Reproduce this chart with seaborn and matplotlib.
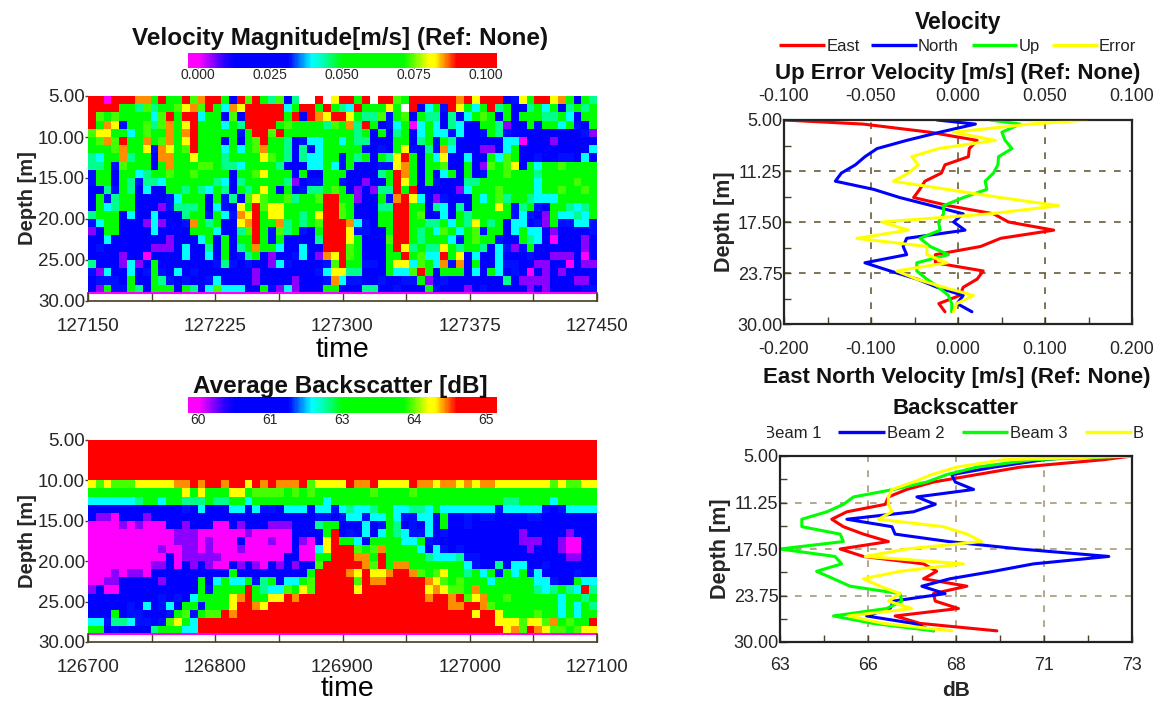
import numpy as np
import matplotlib
matplotlib.use("Agg")
import matplotlib.pyplot as plt
import seaborn as sns
from matplotlib.colors import LinearSegmentedColormap

W, H = 1160, 702

# colour levels, as a fraction of the colour bar
LEVELS = {'m': 0.02, 'p': 0.08, 'b': 0.2, 'a': 0.33, 'c': 0.40, 't': 0.45, 'g': 0.6,
          'l': 0.72, 'y': 0.78, 'o': 0.83, 'r': 0.95, 'w': np.nan}

VEL_WEST = [
    "rrmrrroogrggrlorrgbrlrgtlbtwwrwy", "rrrrggtltgglyolrgcoyrrrrrcgrrgrg",
    "rlglggggclrgrrcggblbrrrrrgrbroyr", "rgoyaggltlogyrgggcgtrrrrglggggtl",
    "lyyggcglggogorgggggagrrlrggggggg", "glolrggoglogyrgggbgbglrggtbaccgg",
    "gggloggyaoyglrgggcgcgloggtbtbcgg", "tcggotggbooggygggtggggylgtbtccgg",
    "ttgalgggbgogggllgttcggggtbbbccgc", "aggbggctgglgglggggbgglygggbgbbgg",
    "aggbgtattcggggggtcbtgggggtpbaagg", "bbtagtbcbbggtgtcgtbgtgygbgbattgl",
    "bgatggbbbbacgggbgatblylggltgglrr", "bgctggbbbpatttgbcabygrlyygggggrr",
    "tgggbcbbcbbbtggagcaoyrgyyggtgyrr", "acggbbbpcpbbaogtgbbyorggotgtglrr",
    "pbggbbbbcbbbbgggcbbtlrgaltgabgrr", "bbcbbbbbbbpbbbcgbgbggrgagbbbbtrr",
    "babbbbbbpppbcbbtbgbtgoggcbbcbbrr", "bbbbpbbmbbbbcbbcbgbatgbpbbacbpoy",
    "tbbbpcpbgbbbbbbbatababbpcabbbbal", "apcbbcbagabcbabbbbbbbpbbbbbbbacy",
    "baaabgbbgtababbacbbbbpbbbbpbbbao", "bpgaagtbgggbgtbclcccbbgapcpbbbgg",
]
VEL_EAST = [
    "rrgrwrrlgrrrrrroryrrrbaygrryogbgt", "tcrgggygwrbcgarygcgrtgbbtgcgbtgtg",
    "rygttlaglbgttbtbcglgbgbgggttgcbgg", "gotrgbacgmcgcbtcbbggtpbbgaggcgabg",
    "ggtgbgbtgbcgccacbbagtabbbbbbbbbap", "cgttbbbggbtgagtbbbbbbccmbbbpbbbbb",
    "gggababgyabtaocbbbppbcgbbbbbbbbbc", "agtgbgtyrgbgcybbcbbgclgbbabbaabcb",
    "agbbbaayogbgglbbgbplglybgcgglgggg", "gbbbbtgrogbgbcgbgbagglgggtggggggg",
    "abbpbbgrygbgabbbttgggggggcgggglgg", "gbpbpttrgrbbbbbpcggglggggcgglgglg",
    "ggpbbgaorycbpabbbgcgltggtcccggggg", "lgbbbttrrggbtcbtbgggygatgabggtctg",
    "lgbbbggrrglbbcbgtgggggacabpgcctcg", "rocabggrrggttgcgtygtgbccbapgaacca",
    "ryaabbgrrgtgclgcglaggbcgccbpbbbba", "rygbbblrrgtgggcaglggabbgtcbmbbbpb",
    "rlgbbbgrytgttygtggtbcapagbbbbbbpb", "rlgbbbggrglccrgybcbbcbbbabbpppbmb",
    "rggaabgyyclgcoaobgbbcaabbppbbmbpp", "yttbbbgcclrgbgggbcbgcbabmbpbpbbbb",
    "caabbabbaagpbabbbbbbbtbppppbbbppb", "bbbttbbabbbgabbbpbabbbbbpbpbbbbaa",
]
BS_WEST = [
    "rrrrrrrrrrrrrrrrrrrrrrrrrrrrrrrr", "rrrrrrrrrrrrrrrrrrrrrrrrrrrrrrrr",
    "rrrrrrrrrrrrrrrrrrrrrrrrrrrrrrrr", "rrrrrrrrrrrrrrrrrrrrrrrrrrrrrrrr",
    "rrrrrrrrrrrrrrrrrrrrrrrrrrrrrrrr", "ylylllyyyyyoororrorryrorooorlyyy",
    "ggggggggggggygygggyygllllglglggg", "cccccctggcggtttgttggcgggggggggcg",
    "bbbbbbbbbbbbabcbbbccbcaabcccbcca", "bppmbbbpbbbbbbbbbbbbbbbbbbbbbaab",
    "mmmmpmpmmmbbpbbbmmbpbbbpppbbbtgg", "mmmmmmmmmmmpppmmmmmmpmmmmmbbbbgr",
    "mmmmmmmmmmmpppmpmmmbmmmpmmbpmbyr", "mmmmmmmmmpmmppmpmmmpmmmmmmbmmcyr",
    "mmmmmmmmmmbmpppppmmmmmmmmbbmmggr", "mmmmmmmmppbmbpbpmmbpbpmbpbpbblrr",
    "mmmpmppmbbbbbbbbbbgbbbbbbbbbgrrr", "mmppbbbbbpbbbbgbcgccgatgbccglrrr",
    "pbmmbbbbbbbbbbgaggggrgtcclgylrrr", "bbbbbbbbbababcggggyorggyyrorrrrr",
    "bbbbbabcbacbggagggyrroyrrrrrrrrr", "bbbgbaabbbaglagllrorrrrrrrrrrrrr",
    "ccattcaabalygcrrrrrrrrrrrrrrrrrr", "ggbabbbbtgggccrrrrrrrrrrrrrrrrrr",
]
BS_EAST = [
    "rrrrrrrrrrrrrrrrrrrrrrrrrrrrrrrrr", "rrrrrrrrrrrrrrrrrrrrrrrrrrrrrrrrr",
    "rrrrrrrrrrrrrrrrrrrrrrrrrrrrrrrrr", "rrrrrrrrrrrrrrrrrrrrrrrrrrrrrrrrr",
    "rrrrrrrrrrrrrrrrrrrrrrrrrrrrrrrrr", "yrooryyyyrooyooyoyooyyyyyyylyllyy",
    "gggglgggglggggggggggggggggggggggg", "gggggggggggggggggggggttggggcggggg",
    "ctcctggccttcgcccccccacccccabacccc", "accaccgcaaccbgbbabaabbbbaabbbbbbb",
    "bbbcbagtbabcbgbbabbbbbbbbbbbbbbbb", "babcbcgtcaacbabbbbbbbbbpbbbbbpbbb",
    "ggcbggggccgabbbbbbbbbbbpppbbpmmbb", "rrlgloggggcbcababbbbbbbbpbbbpmmbb",
    "rroogrgggggtccctaabbbbbbbbbbbppbb", "rrrolrgoogggggggcabbtbccbbabbbbbb",
    "royryyorrolglyggtgcgagcgacbbbbabb", "rrlroorrrrroylglgggcgggggccabbgcc",
    "rryrrrrrrrryoyllgogggggggtctgtcrt", "rrrrrrrrrrrorrorlyogglggggggcggtg",
    "rrrrrrrrrrrrrroorrolggggggggcgcgt", "rrrrrrrrrrrrrrrrryrrygggglggcgcgg",
    "rrrrrrrrrrrrrrrrrrrryyylyyloglggr", "rrrrrrrrrrrrrrrrrrrrryolroyllglyy",
]

VEL_TICKS = [127150, 127225, 127300, 127375, 127450]
BS_TICKS = [126700, 126800, 126900, 127000, 127100]
DEPTH_TICKS = [5, 10, 15, 20, 25, 30]
PROFILE_DEPTH_TICKS = [5, 11.25, 17.5, 23.75, 30]

VEL_RANGE = (-0.0035, 0.1038)
BS_RANGE = (59.83, 65.19)
VEL_BAR_TICKS = [0.0, 0.025, 0.05, 0.075, 0.1]
VEL_BAR_LABELS = ["0.000", "0.025", "0.050", "0.075", "0.100"]
BS_BAR_TICKS = [60, 61.25, 62.5, 63.75, 65]
BS_BAR_LABELS = ["60", "61", "63", "64", "65"]

# profile depth bins, metres
DEPTH = [5.0, 5.5, 6.5, 7.5, 8.5, 9.5, 10.5, 11.5, 12.5, 13.5, 14.5, 15.5, 16.5,
         17.5, 18.5, 19.5, 20.5, 21.5, 22.5, 23.5, 24.5, 25.5, 26.5, 27.5, 28.5]

EAST = [-0.200, -0.109, -0.032, 0.022, 0.013, 0.012, -0.015, -0.019, -0.038, -0.044, -0.051,
        -0.011, 0.041, 0.058, 0.110, 0.049, 0.026, -0.026, -0.026, 0.029, 0.022, 0.006, 0.002,
        -0.022, -0.015]
NORTH = [-0.024, 0.020, -0.021, -0.059, -0.093, -0.107, -0.118, -0.134, -0.141, -0.097, -0.067,
         -0.030, 0.006, -0.005, 0.008, -0.059, -0.063, -0.059, -0.107, -0.078, -0.047, -0.024,
         0.006, -0.001, 0.016]
UP = [0.0185, 0.0358, 0.0252, 0.0271, 0.0310, 0.0233, 0.0229, 0.0204, 0.0156, 0.0166, 0.0032,
      -0.0083, -0.0083, -0.0112, -0.0103, -0.0218, -0.0160, -0.0055, -0.0237, -0.0237, -0.0179,
      -0.0112, -0.0055, -0.0036, -0.0036]
ERROR = [0.0741, 0.0415, -0.0026, 0.0214, -0.0112, -0.0266, -0.0228, -0.0285, -0.0371, -0.0064,
         0.0243, 0.0578, 0.0185, -0.0438, -0.0285, -0.0582, -0.0179, -0.0179, -0.0064, -0.0352,
         -0.0237, -0.0083, 0.0089, -0.0007, -0.0026]

BEAM1 = [73.0, 72.19, 69.82, 68.59, 67.36, 66.60, 66.08, 65.99, 64.90, 64.47, 64.80, 65.37, 66.08,
         64.71, 65.37, 67.08, 67.45, 67.08, 68.31, 67.36, 67.41, 68.07, 66.27, 66.98, 69.16]
BEAM2 = [71.63, 70.49, 69.07, 67.88, 67.98, 68.50, 66.89, 67.41, 66.79, 64.90, 66.18, 66.27, 67.79,
         69.82, 72.34, 70.20, 69.07, 67.83, 67.03, 67.69, 66.22, 66.13, 65.46, 66.79, 67.36]
BEAM3 = [73.0, 70.20, 68.59, 67.74, 67.17, 66.22, 65.09, 64.80, 64.33, 63.62, 63.62, 64.71, 64.80,
         63.0, 64.56, 64.75, 64.04, 64.52, 64.99, 66.41, 66.46, 66.03, 64.52, 65.65, 67.36]
BEAM4 = [73.0, 69.35, 68.02, 67.31, 66.79, 66.18, 66.08, 66.08, 66.18, 65.80, 67.64, 68.31, 68.73,
         66.60, 65.42, 68.21, 66.41, 65.37, 65.84, 66.41, 66.08, 66.74, 64.94, 65.94, 67.88]

sns.set_theme(style="white")
plt.rcParams['font.family'] = ['Liberation Sans', 'DejaVu Sans']

DARK = "#4d4228"
RED, BLUE, GREEN, YELLOW = "#ff0000", "#0000ff", "#00ff00", "#ffff00"

rainbow = LinearSegmentedColormap.from_list("adcp", [
    (0.0, "#ff00ff"), (0.035, "#ff00ff"), (0.115, "#2a00ff"), (0.15, "#0000ff"),
    (0.325, "#0000ff"), (0.40, "#00ffff"), (0.43, "#00ffc8"), (0.5, "#00ff00"),
    (0.70, "#00ff00"), (0.78, "#ffff00"), (0.80, "#ffff00"), (0.87, "#ff0000"), (1.0, "#ff0000")])


def box(l, t, r, b):
    return [l / W, 1 - b / H, (r - l) / W, (b - t) / H]


def build(west, east, lo, hi):
    rows = [w[:32] + e for w, e in zip(west, east)]
    return np.array([[lo + LEVELS[c] * (hi - lo) for c in row] for row in rows])


def heat_panel(values, rng, ticks, bar_ticks, bar_labels, title, title_y, ax_box, cax_box, xlabel_y):
    ax = fig.add_axes(box(*ax_box))
    cax = fig.add_axes(box(*cax_box))
    sns.heatmap(values, ax=ax, cbar_ax=cax, cmap=rainbow, vmin=rng[0], vmax=rng[1],
                cbar_kws={"orientation": "horizontal", "ticks": bar_ticks},
                xticklabels=False, yticklabels=False)
    cax.set_xticklabels(bar_labels, fontsize=10)
    cax.tick_params(axis="x", direction="in", length=3, width=0.7, color=DARK, pad=0, bottom=True)
    ax.collections[0].colorbar.outline.set_visible(False)

    ncol = values.shape[1]
    ax.set_ylim(25, 0)
    ax.set_xlim(0, ncol)
    pos = [(t - ticks[0]) / (ticks[-1] - ticks[0]) * ncol for t in ticks]
    ax.set_xticks(pos)
    ax.set_xticks([(a + b) / 2 for a, b in zip(pos, pos[1:])], minor=True)
    ax.set_xticklabels([str(t) for t in ticks], fontsize=13.5)
    ax.tick_params(axis="x", which="both", direction="in", length=6, width=1, color=DARK, pad=12, bottom=True)
    ax.set_yticks([d - 5 for d in DEPTH_TICKS])
    ax.set_yticklabels(["%.2f" % d for d in DEPTH_TICKS], fontsize=13.5)
    ax.tick_params(axis="y", length=2, width=1, color=DARK, pad=0, left=True)
    ax.axhline(24, color="#ff00ff", lw=1.5)
    for name in ["top", "right", "left", "bottom"]:
        ax.spines[name].set_visible(True)
        ax.spines[name].set_color(DARK)
    ax.spines["top"].set_visible(False)
    ax.spines["left"].set_bounds(25, 24)
    ax.spines["right"].set_bounds(25, 24)
    ax.set_ylabel("Depth [m]", fontsize=14.5, fontweight="bold", labelpad=1)
    ax.set_xlabel("")
    fig.text(ax_box[0] / W + (ax_box[2] - ax_box[0]) / W / 2 - 2 / W, 1 - title_y / H, title,
             ha="center", va="center", fontsize=17.5, fontweight="bold", color="#111111")
    fig.text(ax_box[0] / W + (ax_box[2] - ax_box[0]) / W / 2 + xlabel_y[1] / W, 1 - xlabel_y[0] / H, "time",
             ha="center", va="center", fontsize=20.5, color="black")
    return ax


def legend_strip(left, right, y, entries):
    # drawn in its own small axes so the outer entries clip like the original
    ax = fig.add_axes(box(left, y - 9, right, y + 9))
    ax.set_xlim(left, right)
    ax.set_ylim(-1, 1)
    ax.axis("off")
    for color, x0, x1, text, tx in entries:
        if color:
            ax.plot([x0, x1], [0, 0], color=color, lw=2.4, solid_capstyle="butt")
        ax.text(tx, 0, text, ha="left", va="center_baseline", fontsize=12, color="#222222", clip_on=True)


def style_profile(ax, xticks, xlabels, xminor, grid_color, xpad):
    ax.set_xlim(xticks[0], xticks[-1])
    ax.set_ylim(30, 5)
    ax.set_xticks(xticks)
    ax.set_xticklabels(xlabels, fontsize=12.8)
    ax.set_xticks(xminor, minor=True)
    ax.set_yticks(PROFILE_DEPTH_TICKS)
    ax.set_yticklabels(["%.2f" % d for d in PROFILE_DEPTH_TICKS], fontsize=13)
    ax.set_yticks([8.125, 14.375, 20.625, 26.875], minor=True)
    ax.tick_params(axis="both", which="both", direction="in", length=5, width=1, color=DARK, bottom=True, left=True)
    ax.tick_params(axis="x", which="both", pad=xpad)
    ax.tick_params(axis="y", which="both", pad=1)
    ax.grid(True, which="major", color=grid_color, ls=(0, (4, 5)), lw=1.2)
    ax.set_axisbelow(True)
    for s in ax.spines.values():
        s.set_visible(True)
        s.set_color("#222222")
        s.set_linewidth(1.6)
    ax.set_ylabel("Depth [m]", fontsize=15.5, fontweight="bold", labelpad=2)


fig = plt.figure(figsize=(W / 100, H / 100), dpi=100, facecolor="white")

heat_panel(build(VEL_WEST, VEL_EAST, *VEL_RANGE), VEL_RANGE, VEL_TICKS, VEL_BAR_TICKS, VEL_BAR_LABELS,
           "Velocity Magnitude[m/s] (Ref: None)", 38, (88, 96, 597, 301), (188, 53, 497, 68), (350, 0))
heat_panel(build(BS_WEST, BS_EAST, *BS_RANGE), BS_RANGE, BS_TICKS, BS_BAR_TICKS, BS_BAR_LABELS,
           "Average Backscatter [dB]", 386, (88, 440, 597, 642), (188, 397, 497, 413), (689, 5))

# upper right: East/North on the bottom scale, Up/Error on the top scale
ax_v = fig.add_axes(box(784, 120, 1132, 324))
sns.lineplot(x=EAST, y=DEPTH, ax=ax_v, color=RED, lw=2.2, sort=False, estimator=None, orient="y")
sns.lineplot(x=NORTH, y=DEPTH, ax=ax_v, color=BLUE, lw=2.2, sort=False, estimator=None, orient="y")
style_profile(ax_v, [-0.2, -0.1, 0, 0.1, 0.2], ["-0.200", "-0.100", "0.000", "0.100", "0.200"],
              [-0.15, -0.05, 0.05, 0.15], "#6b5c3a", 12)
ax_t = ax_v.twiny()
sns.lineplot(x=UP, y=DEPTH, ax=ax_t, color=GREEN, lw=2.2, sort=False, estimator=None, orient="y")
sns.lineplot(x=ERROR, y=DEPTH, ax=ax_t, color=YELLOW, lw=2.2, sort=False, estimator=None, orient="y")
ax_t.set_xlim(-0.1, 0.1)
ax_t.set_ylim(30, 5)
ax_t.set_xticks([-0.1, -0.05, 0, 0.05, 0.1])
ax_t.set_xticklabels(["-0.100", "-0.050", "0.000", "0.050", "0.100"], fontsize=12.8)
ax_t.tick_params(axis="x", length=0, pad=11, top=True)
ax_t.grid(False)

# lower right: the four beams
ax_b = fig.add_axes(box(780, 456, 1132, 642))
for beam, color in zip([BEAM1, BEAM2, BEAM3, BEAM4], [RED, BLUE, GREEN, YELLOW]):
    sns.lineplot(x=beam, y=DEPTH, ax=ax_b, color=color, lw=2.2, sort=False, estimator=None, orient="y")
style_profile(ax_b, [63, 65.5, 68, 70.5, 73], ["63", "66", "68", "71", "73"],
              [64.25, 66.75, 69.25, 71.75], "#a89a78", 11)
ax_b.set_xlabel("dB", fontsize=15, fontweight="bold", labelpad=5)

for text, cx, y, size in [("Velocity", 958, 23, 16.5),
                          ("Up Error Velocity [m/s] (Ref: None)", 958, 73, 16),
                          ("East North Velocity [m/s] (Ref: None)", 957, 378, 16),
                          ("Backscatter", 955, 409, 16)]:
    fig.text(cx / W, 1 - y / H, text, ha="center", va="center", fontsize=size, fontweight="bold", color="#111111")

legend_strip(775, 1140, 45, [(RED, 779, 825, "East", 827), (BLUE, 871, 917, "North", 918),
                             (GREEN, 972, 1017, "Up", 1019), (YELLOW, 1052, 1098, "Error", 1099)])
legend_strip(767, 1143, 432, [(None, 0, 0, "Beam 1", 764), (BLUE, 838, 885, "Beam 2", 887),
                              (GREEN, 962, 1008, "Beam 3", 1010), (YELLOW, 1085, 1132, "Beam 4", 1133)])

fig.savefig("out.png", dpi=100, facecolor="white")
